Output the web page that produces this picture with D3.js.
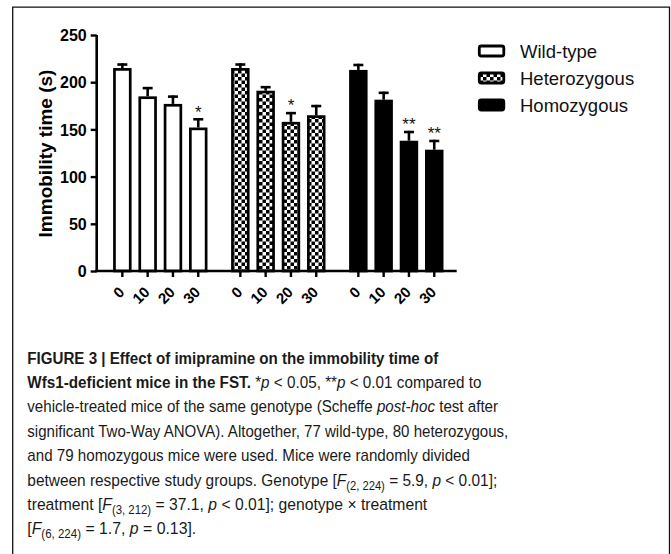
<!DOCTYPE html>
<html><head><meta charset="utf-8">
<script src="https://cdn.jsdelivr.net/npm/d3@7"></script>
<style>body{margin:0;background:#fff}svg{display:block}</style>
</head><body>
<script>
const genotypes = ["Wild-type", "Heterozygous", "Homozygous"];
const doses = ["0", "10", "20", "30"];
const wildType = [215, 185, 177, 152];
const heterozygous = [215, 191, 158, 165];
const homozygous = [213, 181.5, 138, 128.5];
const wildTypeSem = [5, 10, 9, 10];
const heterozygousSem = [5, 5, 10.5, 11];
const homozygousSem = [6.5, 8.5, 10.5, 10.5];
const wildTypeSig = ["", "", "", "*"];
const heterozygousSig = ["", "", "*", ""];
const homozygousSig = ["", "", "**", "**"];
const yTicks = [0, 50, 100, 150, 200, 250];
const yTitle = "Immobility time (s)";

const values = [wildType, heterozygous, homozygous];
const sems = [wildTypeSem, heterozygousSem, homozygousSem];
const sigs = [wildTypeSig, heterozygousSig, homozygousSig];

const W = 671, H = 554;
const svg = d3.select("body").append("svg").attr("width", W).attr("height", H);
svg.append("rect").attr("width", W).attr("height", H).attr("fill", "#fff");

// border (left, top, right)
svg.append("path").attr("d", `M12.7,${H} V7.2 H669.5 V${H}`).attr("fill","none").attr("stroke","#111").attr("stroke-width",1.3);

const defs = svg.append("defs");
const pat = defs.append("pattern").attr("id","checker").attr("patternUnits","userSpaceOnUse")
  .attr("width",7).attr("height",7);
pat.append("rect").attr("width",7).attr("height",7).attr("fill","#fff");
pat.append("rect").attr("width",3.5).attr("height",3.5).attr("fill","#000");
pat.append("rect").attr("x",3.5).attr("y",3.5).attr("width",3.5).attr("height",3.5).attr("fill","#000");
const fills = ["#fff", "url(#checker)", "#000"];

const y = d3.scaleLinear().domain([0, 250]).range([271, 35]);
const xG = d3.scaleBand().domain(genotypes).range([109.7, 446.9]).paddingInner(0.1424).paddingOuter(0);
const xD = d3.scaleBand().domain(doses).range([0, xG.bandwidth()]).paddingInner(0.27).paddingOuter(0.135);

const g = svg.append("g");
const sw = 2.7;

genotypes.forEach((gen, gi) => {
  doses.forEach((d, di) => {
    const v = values[gi][di], s = sems[gi][di];
    const x0 = xG(gen) + xD(d), bw = xD.bandwidth(), cx = x0 + bw / 2;
    g.append("line").attr("x1", cx).attr("x2", cx).attr("y1", y(v)).attr("y2", y(v + s))
      .attr("stroke", "#000").attr("stroke-width", 2.6);
    g.append("line").attr("x1", cx - 5).attr("x2", cx + 5).attr("y1", y(v + s) + 1.2).attr("y2", y(v + s) + 1.2)
      .attr("stroke", "#000").attr("stroke-width", 2.6);
    g.append("rect").attr("x", x0 + sw / 2).attr("y", y(v) + sw / 2)
      .attr("width", bw - sw).attr("height", y(0) - y(v) - sw / 2)
      .attr("fill", fills[gi]).attr("stroke", "#000").attr("stroke-width", sw);
    if (sigs[gi][di]) {
      g.append("text").attr("x", cx).attr("y", y(v + s) - 0.5).attr("text-anchor", "middle")
        .attr("font-family", "Liberation Sans, Arial, sans-serif").attr("font-size", 17)
        .attr("fill", "#111").text(sigs[gi][di]);
    }
    g.append("line").attr("x1", cx).attr("x2", cx).attr("y1", 271).attr("y2", 277)
      .attr("stroke", "#000").attr("stroke-width", 2.4);
    g.append("text").attr("transform", `translate(${cx + 3},293) rotate(-45)`)
      .attr("text-anchor", "end").attr("font-family", "Liberation Sans, Arial, sans-serif")
      .attr("font-weight", "bold").attr("font-size", 15).text(d);
  });
});

const yAxis = g.append("g").attr("transform", "translate(96.7,0)")
  .call(d3.axisLeft(y).tickValues(yTicks).tickSize(6).tickPadding(4).tickFormat(d3.format("d")));
yAxis.select(".domain").attr("stroke", "#000").attr("stroke-width", 2.6).attr("d", `M0,${y(250)}V${y(0)}`);
yAxis.selectAll(".tick line").attr("stroke", "#000").attr("stroke-width", 2.4);
yAxis.selectAll(".tick text").attr("font-family", "Liberation Sans, Arial, sans-serif")
  .attr("font-weight", "bold").attr("font-size", 16).attr("fill", "#000").attr("dy", "0.36em");

g.append("line").attr("x1", 95.4).attr("x2", 456.7).attr("y1", 271).attr("y2", 271)
  .attr("stroke", "#000").attr("stroke-width", 2.6);

g.append("text").attr("transform", "translate(52,153.5) rotate(-90)").attr("text-anchor", "middle")
  .attr("font-family", "Liberation Sans, Arial, sans-serif").attr("font-weight", "bold")
  .attr("font-size", 19).text(yTitle);

const leg = svg.append("g");
genotypes.forEach((gen, i) => {
  const cy = 51 + i * 27;
  leg.append("rect").attr("x", 479.3).attr("y", cy - 5).attr("width", 24.5).attr("height", 10)
    .attr("rx", 2).attr("fill", i === 1 ? "url(#checker)" : fills[i]).attr("stroke", "#000").attr("stroke-width", 2.8);
  leg.append("text").attr("x", 520).attr("y", cy + 6.5).attr("font-family", "Liberation Sans, Arial, sans-serif")
    .attr("font-size", 18.5).attr("fill", "#111").text(gen);
});

const cap = svg.append("g").attr("font-family", "Liberation Sans, Arial, sans-serif").attr("font-size", 17.2).attr("fill", "#1a1a1a");
const N = {}, B = {w:"bold"}, I = {s:"italic"}, S = {sub:true};
const lines = [
  {w: 411, parts: [["FIGURE 3 | Effect of imipramine on the immobility time of", B]]},
  {w: 454, parts: [["Wfs1-deficient mice in the FST.", B], [" *", N], ["p", I], [" < 0.05, **", N], ["p", I], [" < 0.01 compared to", N]]},
  {w: 471, parts: [["vehicle-treated mice of the same genotype (Scheffe ", N], ["post-hoc", I], [" test after", N]]},
  {w: 481, parts: [["significant Two-Way ANOVA). Altogether, 77 wild-type, 80 heterozygous,", N]]},
  {w: 443, parts: [["and 79 homozygous mice were used. Mice were randomly divided", N]]},
  {w: 470, parts: [["between respective study groups. Genotype [", N], ["F", I], ["(2, 224)", S], [" = 5.9, ", N], ["p", I], [" < 0.01];", N]]},
  {w: 400, parts: [["treatment [", N], ["F", I], ["(3, 212)", S], [" = 37.1, ", N], ["p", I], [" < 0.01]; genotype × treatment", N]]},
  {w: 169, parts: [["[", N], ["F", I], ["(6, 224)", S], [" = 1.7, ", N], ["p", I], [" = 0.13].", N]]}
];
lines.forEach((ln, i) => {
  const by = 363.5 + i * 24.4;
  const t = cap.append("text").attr("x", 0).attr("y", 0);
  let shifted = false;
  ln.parts.forEach(([txt, st]) => {
    const ts = t.append("tspan").text(txt);
    if (st.w) ts.attr("font-weight", st.w);
    if (st.s) ts.attr("font-style", st.s);
    if (st.sub) { ts.attr("font-size", 12.5).attr("dy", 4); shifted = true; }
    else if (shifted) { ts.attr("dy", -4); shifted = false; }
  });
  const actual = t.node().getComputedTextLength();
  t.attr("transform", `translate(27.3,${by}) scale(${ln.w / actual},1)`);
});
</script>
</body></html>
